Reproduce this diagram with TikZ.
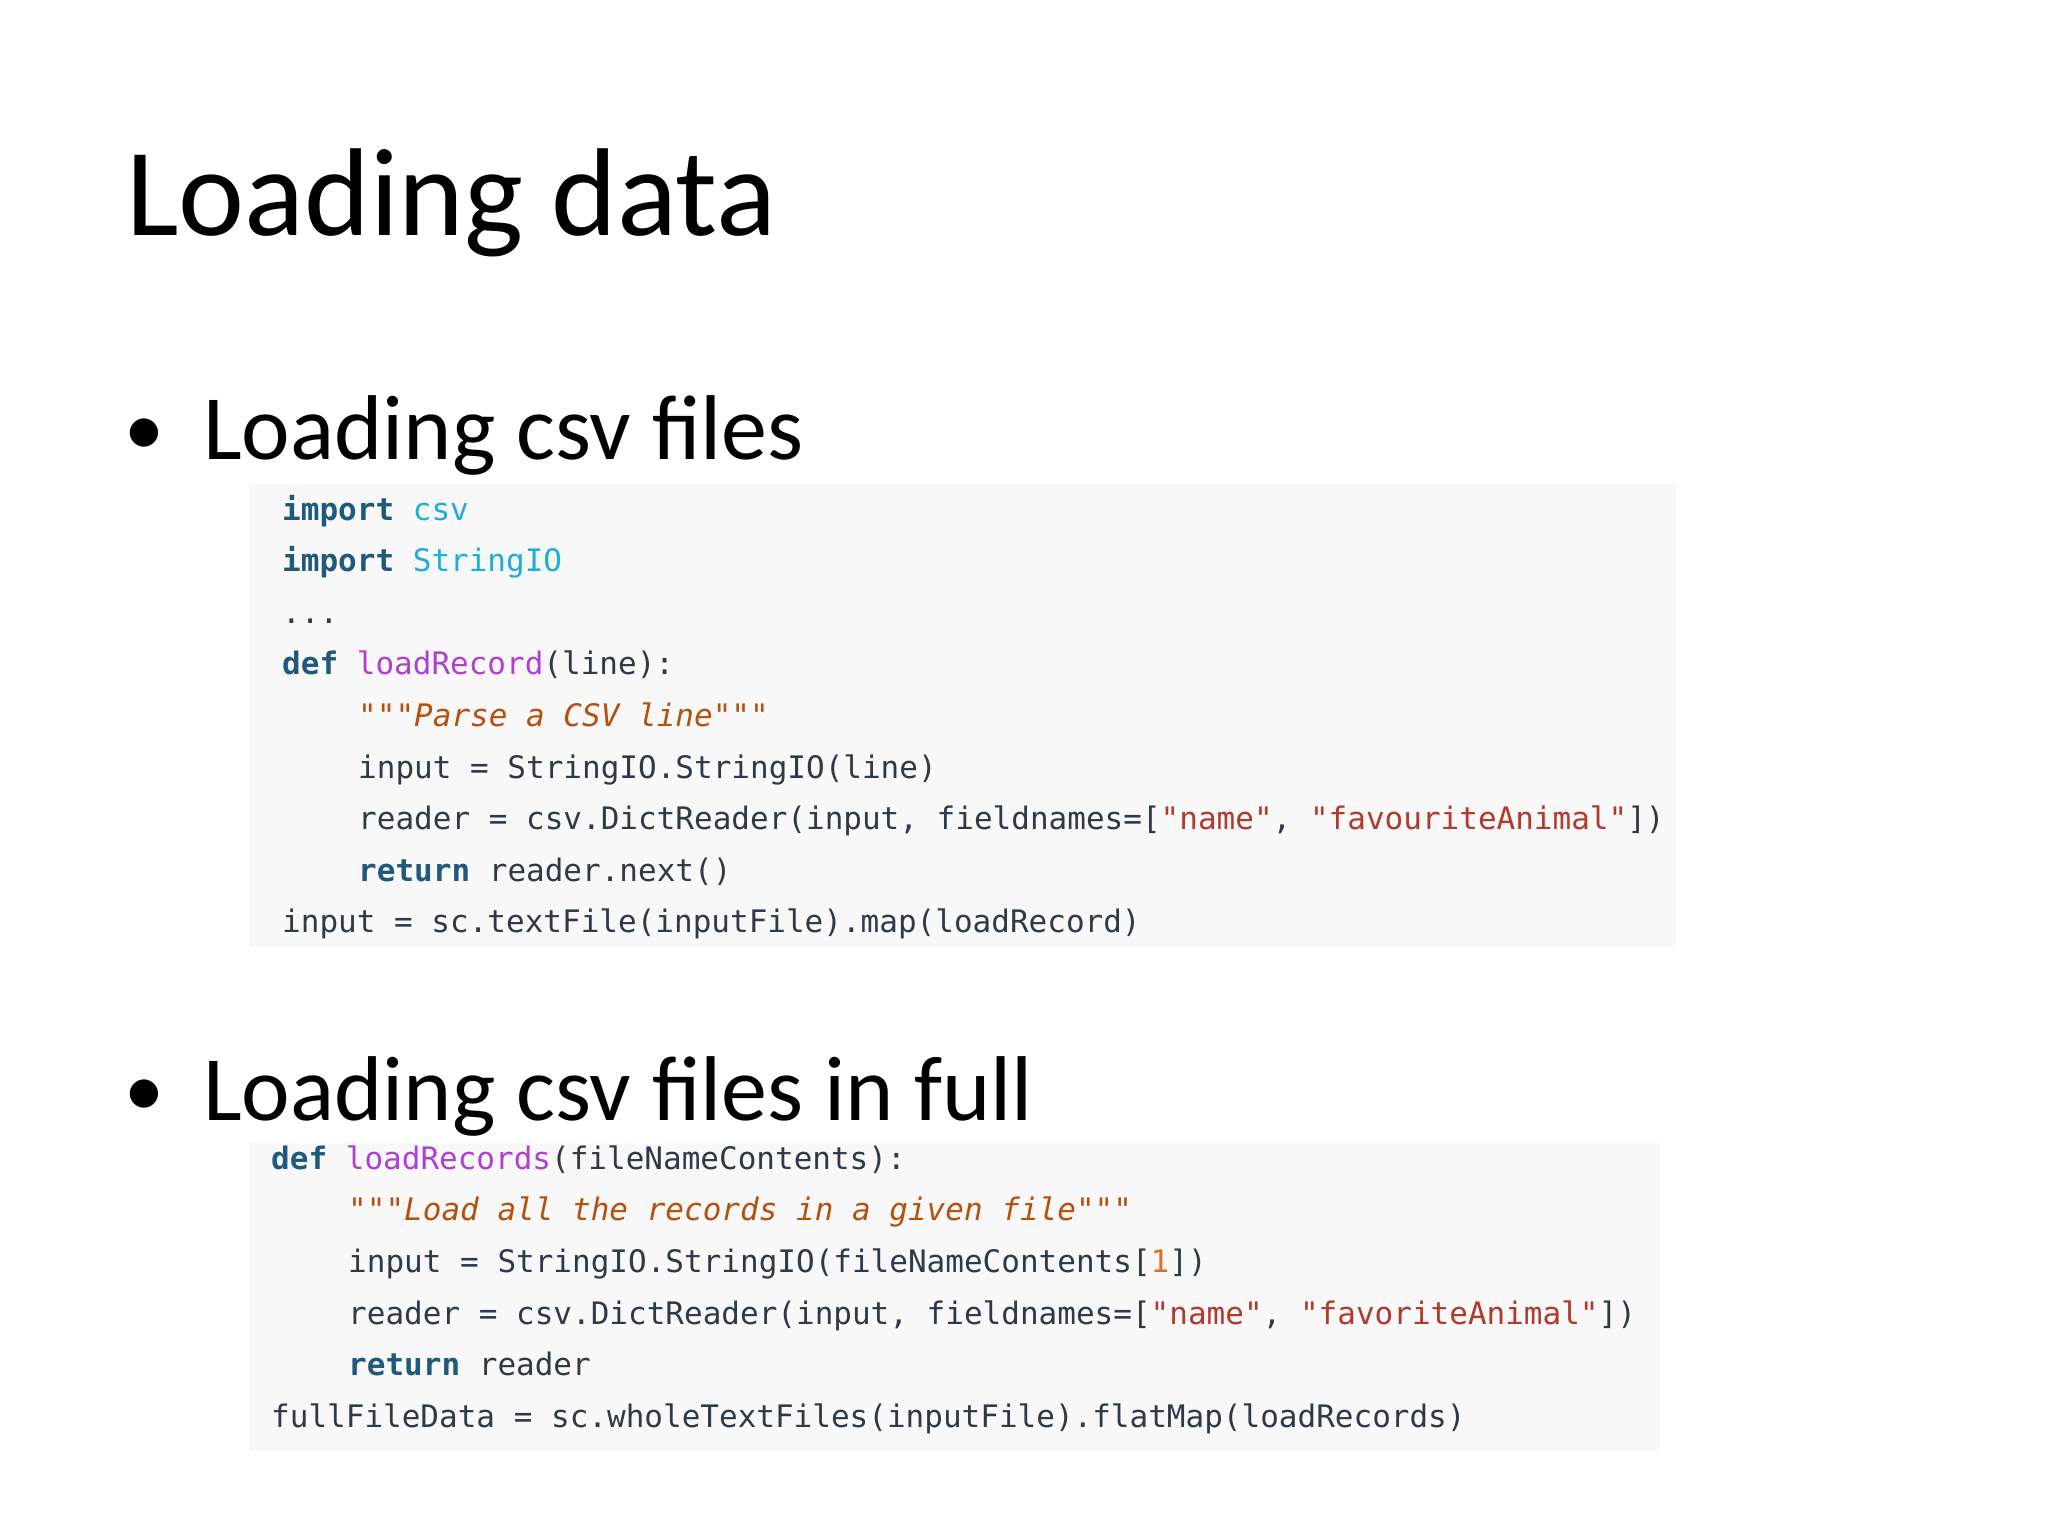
\documentclass[tikz,border=0pt]{standalone}
\usepackage{fontspec}
\setmainfont{Carlito}
\setmonofont{DejaVu Sans Mono}
\definecolor{kwc}{HTML}{1F5A7A}
\definecolor{moc}{HTML}{1EAEDB}
\definecolor{fnc}{HTML}{B040D0}
\definecolor{docc}{HTML}{B5510E}
\definecolor{strc}{HTML}{B03A2E}
\definecolor{numc}{HTML}{E07020}
\definecolor{txc}{HTML}{2E3A48}
\definecolor{bgc}{HTML}{F8F8F8}
\newcommand{\kw}[1]{\textcolor{kwc}{\bfseries #1}}
\newcommand{\mo}[1]{\textcolor{moc}{#1}}
\newcommand{\fn}[1]{\textcolor{fnc}{#1}}
\newcommand{\dc}[1]{\textcolor{docc}{\itshape #1}}
\newcommand{\st}[1]{\textcolor{strc}{#1}}
\newcommand{\nm}[1]{\textcolor{numc}{#1}}
\begin{document}
\begin{tikzpicture}[x=1pt,y=-1pt,
  code/.style={anchor=base west,inner sep=0pt,font=\fontsize{31}{31}\selectfont\ttfamily,text=txc},
  big/.style={anchor=base west,inner sep=0pt,font=\fontsize{92}{92}\selectfont},
  dot/.style={anchor=base west,inner sep=0pt,font=\fontsize{80}{80}\selectfont},
  box/.style={fill=bgc,draw=none}]
\useasboundingbox (0,0) rectangle (2048,1536);
\fill[white] (0,0) rectangle (2048,1536);
\node[anchor=base west,inner sep=0pt,font=\fontsize{125}{125}\selectfont] (title) at (126,235) {Loading data};
\node[dot] (b1dot) at (124,455) {•};
\node[big] (b1) at (203,459) {Loading csv files};
\fill[box] (250,484) rectangle (1676,947);
\node[code] (l1) at (282,520) {\kw{import} \mo{csv}};
\node[code] (l2) at (282,571.6) {\kw{import} \mo{StringIO}};
\node[code] (l3) at (282,623.2) {...};
\node[code] (l4) at (282,674.8) {\kw{def} \fn{loadRecord}(line):};
\node[code] (l5) at (358,726.4) {\dc{"""Parse a CSV line"""}};
\node[code] (l6) at (358,778) {input = StringIO.StringIO(line)};
\node[code] (l7) at (358,829.6) {reader = csv.DictReader(input, fieldnames=[\st{"name"}, \st{"favouriteAnimal"}])};
\node[code] (l8) at (358,881.2) {\kw{return} reader.next()};
\node[code] (l9) at (282,932.8) {input = sc.textFile(inputFile).map(loadRecord)};
\node[dot] (b2dot) at (124,1116) {•};
\node[big] (b2) at (203,1120) {Loading csv files in full};
\fill[box] (250,1143) rectangle (1660,1451);
\node[code] (m1) at (271,1169) {\kw{def} \fn{loadRecords}(fileNameContents):};
\node[code] (m2) at (348,1220.7) {\dc{"""Load all the records in a given file"""}};
\node[code] (m3) at (348,1272.4) {input = StringIO.StringIO(fileNameContents[\nm{1}])};
\node[code] (m4) at (348,1324.1) {reader = csv.DictReader(input, fieldnames=[\st{"name"}, \st{"favoriteAnimal"}])};
\node[code] (m5) at (348,1375.8) {\kw{return} reader};
\node[code] (m6) at (271,1427.5) {fullFileData = sc.wholeTextFiles(inputFile).flatMap(loadRecords)};
\end{tikzpicture}
\end{document}
